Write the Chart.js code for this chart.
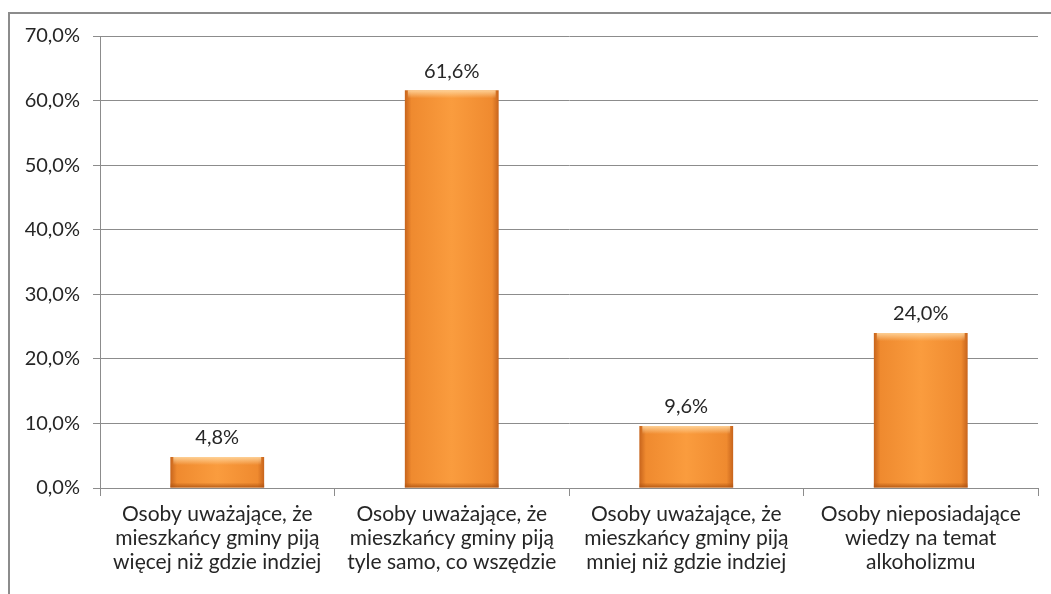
<!DOCTYPE html>
<html>
<head>
<meta charset="utf-8">
<script src="https://cdn.jsdelivr.net/npm/chart.js@4"></script>
<style>
  html, body { margin:0; padding:0; background:#fff; }
  #wrap { position:relative; width:1051px; height:594px; overflow:hidden; }
  #frame { position:absolute; left:8px; top:12px; width:1100px; height:700px; border-left:2px solid #8c8c8c; border-top:2px solid #8c8c8c; }
  canvas { position:absolute; left:0; top:0; }
</style>
</head>
<body>
<div id="wrap">
  <div id="frame"></div>
  <canvas id="barChart" width="1051" height="594"></canvas>
</div>
<script>
// ---- data ----
const categories = [
  ['Osoby uważające, że', 'mieszkańcy gminy piją', 'więcej niż gdzie indziej'],
  ['Osoby uważające, że', 'mieszkańcy gminy piją', 'tyle samo, co wszędzie'],
  ['Osoby uważające, że', 'mieszkańcy gminy piją', 'mniej niż gdzie indziej'],
  ['Osoby nieposiadające', 'wiedzy na temat', 'alkoholizmu'],
];
const values = [4.8, 61.6, 9.6, 24.0];
const yTicks = [0, 10, 20, 30, 40, 50, 60, 70];

const FONT = 'Lato, "Open Sans", sans-serif';
const fmt = v => v.toFixed(1).replace('.', ',') + '%';

function barFill(c) {
  const chart = c.chart, area = chart.chartArea, xs = chart.scales.x;
  if (!area || !xs) return '#f39232';
  const cx = xs.getPixelForValue(c.dataIndex);
  const half = (area.right - area.left) / categories.length * 0.4 / 2;
  const g = chart.ctx.createLinearGradient(cx - half, 0, cx + half, 0);
  g.addColorStop(0, '#c7641c');
  g.addColorStop(0.07, '#ef8a2f');
  g.addColorStop(0.5, '#fa9c3e');
  g.addColorStop(0.93, '#ef8a2f');
  g.addColorStop(1, '#c7641c');
  return g;
}

// bevel + value labels
const barDecor = {
  id: 'barDecor',
  afterDatasetsDraw(chart) {
    const ctx = chart.ctx;
    chart.getDatasetMeta(0).data.forEach((el, i) => {
      const l = el.x - el.width / 2, r = el.x + el.width / 2, t = el.y, b = el.base;
      ctx.save();
      let g = ctx.createLinearGradient(0, t, 0, t + 8);
      g.addColorStop(0, 'rgba(255,215,160,0.9)');
      g.addColorStop(1, 'rgba(255,215,160,0)');
      ctx.fillStyle = g;
      ctx.fillRect(l + 3, t, r - l - 6, Math.min(8, b - t));
      g = ctx.createLinearGradient(0, b - 5, 0, b);
      g.addColorStop(0, 'rgba(170,80,15,0)');
      g.addColorStop(1, 'rgba(170,80,15,0.8)');
      ctx.fillStyle = g;
      ctx.fillRect(l, b - 5, r - l, 5);
      ctx.fillStyle = '#262626';
      ctx.font = '20px ' + FONT;
      ctx.textAlign = 'center';
      ctx.textBaseline = 'bottom';
      ctx.fillText(fmt(values[i]), el.x, t - 9);
      ctx.restore();
    });
  }
};

new Chart(document.getElementById('barChart'), {
  type: 'bar',
  data: {
    labels: categories,
    datasets: [{ data: values, backgroundColor: barFill, borderWidth: 0, barPercentage: 0.4, categoryPercentage: 1 }]
  },
  options: {
    responsive: false,
    animation: false,
    layout: { padding: { top: 36, right: 13, left: 0, bottom: 0 } },
    plugins: { legend: { display: false }, tooltip: { enabled: false } },
    scales: {
      x: {
        afterFit: s => { s.height = 106; },
        grid: { display: true, drawOnChartArea: false, offset: true, tickLength: 8, color: '#8c8c8c' },
        border: { color: '#8c8c8c' },
        ticks: { color: '#262626', font: { family: FONT, size: 21, lineHeight: 1.15 }, padding: 6, maxRotation: 0, autoSkip: false }
      },
      y: {
        min: 0, max: 70,
        afterFit: s => { s.width = 100; },
        afterBuildTicks: s => { s.ticks = yTicks.map(v => ({ value: v })); },
        grid: { color: '#8c8c8c', tickLength: 7 },
        border: { color: '#8c8c8c' },
        ticks: { color: '#262626', font: { family: FONT, size: 20 }, padding: 13, callback: v => fmt(v) }
      }
    }
  },
  plugins: [barDecor]
});
</script>
</body>
</html>
